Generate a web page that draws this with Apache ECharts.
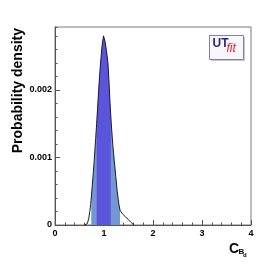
<!DOCTYPE html>
<html>
<head>
<meta charset="utf-8">
<script src="https://cdn.jsdelivr.net/npm/echarts@6/dist/echarts.min.js"></script>
<style>html,body{margin:0;padding:0;background:#fff;}#c{width:279px;height:266px;}</style>
</head>
<body>
<div id="c"></div>
<script>
// Curve points: x (C_Bd) and probability density
var curveX = [0.60, 0.64, 0.66, 0.69, 0.71, 0.728, 0.74, 0.76, 0.78, 0.80, 0.83, 0.85, 0.88, 0.90, 0.93, 0.96, 0.99, 1.02, 1.05, 1.08, 1.10, 1.12, 1.137, 1.15, 1.18, 1.21, 1.24, 1.27, 1.29, 1.31, 1.327, 1.34, 1.37, 1.40, 1.44, 1.50, 1.55, 1.61];
var curveY = [0, 0, 0.00002, 0.00010, 0.00020, 0.00030, 0.00040, 0.00058, 0.00076, 0.00095, 0.00128, 0.00150, 0.00186, 0.00210, 0.00240, 0.00265, 0.00280, 0.00272, 0.00258, 0.00240, 0.00215, 0.00185, 0.00163, 0.00148, 0.00118, 0.00095, 0.00072, 0.00050, 0.00038, 0.00028, 0.00022, 0.00020, 0.00017, 0.00015, 0.00012, 0.00008, 0.00004, 0];
// Probability intervals (68% dark, 95% light)
var band68 = [0.85, 1.137];
var band95 = [0.74, 1.327];
var xTicks = [0, 1, 2, 3, 4];
var yTicks = [0, 0.001, 0.002];

function pts(lo, hi) {
  var out = [];
  for (var i = 0; i < curveX.length; i++) {
    if (curveX[i] >= lo - 1e-9 && curveX[i] <= hi + 1e-9) out.push([curveX[i], curveY[i]]);
  }
  return out;
}
var full = pts(-1, 10);

var chart = echarts.init(document.getElementById('c'), null, {renderer: 'canvas'});
var axisCol = '#555';
var font = 'Liberation Sans, Arial, sans-serif';
chart.setOption({
  animation: false,
  backgroundColor: '#fff',
  grid: {left: 55, top: 27, right: 28, bottom: 41, show: true, borderColor: '#7a7a7a', borderWidth: 1, backgroundColor: 'transparent'},
  xAxis: {
    type: 'value', min: xTicks[0], max: xTicks[xTicks.length - 1], interval: 1,
    axisLine: {show: true, lineStyle: {color: axisCol, width: 1}},
    axisTick: {show: true, inside: true, length: 5, lineStyle: {color: axisCol}},
    minorTick: {show: true, splitNumber: 5, length: 2.5, lineStyle: {color: axisCol}},
    splitLine: {show: false},
    axisLabel: {color: '#000', fontFamily: font, fontWeight: 'bold', fontSize: 9, margin: 4}
  },
  yAxis: [{
    type: 'value', min: 0, max: 0.00293, interval: 0.001,
    axisLine: {show: true, lineStyle: {color: axisCol, width: 1}},
    axisTick: {show: true, inside: true, length: 5, lineStyle: {color: axisCol}},
    splitLine: {show: false},
    axisLabel: {color: '#000', fontFamily: font, fontWeight: 'bold', fontSize: 9, margin: 3,
      formatter: function (v) { return v === 0 ? '0' : v.toFixed(3); },
      showMaxLabel: false}
  }, {
    type: 'value', min: 0, max: 0.00293, interval: 0.0002, position: 'left',
    axisLine: {show: false},
    axisTick: {show: true, inside: true, length: 2.5, lineStyle: {color: axisCol}},
    axisLabel: {show: false},
    splitLine: {show: false}
  }],
  series: [
    {type: 'line', data: pts(band95[0], band95[1]), symbol: 'none', lineStyle: {width: 0}, areaStyle: {color: '#7396d4', opacity: 1}, z: 2, silent: true},
    {type: 'line', data: pts(band68[0], band68[1]), symbol: 'none', lineStyle: {width: 0}, areaStyle: {color: '#5a55da', opacity: 1}, z: 3, silent: true},
    {type: 'line', data: full, symbol: 'none', lineStyle: {color: '#1c1c30', width: 1}, z: 4, silent: true}
  ],
  graphic: [
    {type: 'text', x: 18, y: 28, rotation: Math.PI / 2,
      style: {text: 'Probability density', font: 'bold 14px ' + font, fill: '#000', align: 'right', verticalAlign: 'middle'}},
    {type: 'text', x: 229, y: 242, style: {text: 'C', font: 'bold 14px ' + font, fill: '#000', align: 'left', verticalAlign: 'top'}},
    {type: 'text', x: 238.5, y: 248, style: {text: 'B', font: 'bold 8px ' + font, fill: '#000', align: 'left', verticalAlign: 'top'}},
    {type: 'text', x: 243, y: 252, style: {text: 'd', font: 'bold 6px ' + font, fill: '#000', align: 'left', verticalAlign: 'top'}},
    {type: 'rect', shape: {x: 211, y: 37, width: 34, height: 24}, style: {fill: '#c8c8c8'}},
    {type: 'rect', shape: {x: 209.5, y: 35.5, width: 34, height: 24}, style: {fill: '#fbf6f8', stroke: '#7b7fb6', lineWidth: 1}},
    {type: 'text', x: 212.5, y: 37.5, style: {text: 'UT', font: 'bold 12px ' + font, fill: '#26287a', align: 'left', verticalAlign: 'top'}},
    {type: 'text', x: 226.5, y: 42.5, style: {text: 'fit', font: 'italic 12px ' + font, fill: '#e0202a', align: 'left', verticalAlign: 'top'}}
  ]
});
</script>
</body>
</html>
